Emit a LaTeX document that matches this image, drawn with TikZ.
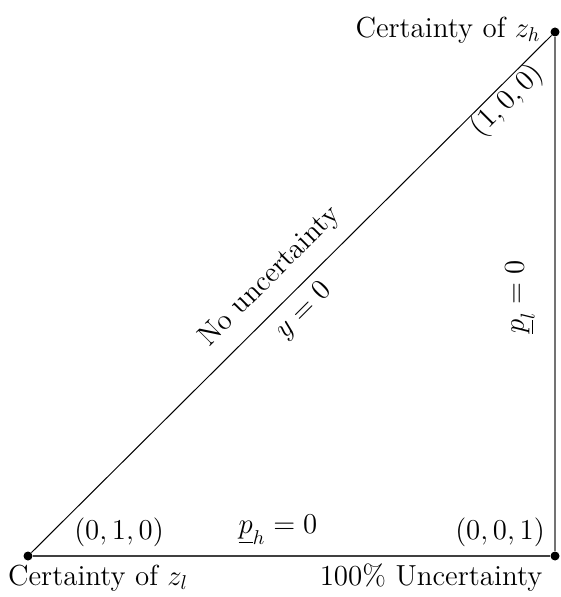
\documentclass[tikz,border=0pt]{standalone}
\begin{document}
\begin{tikzpicture}[x=0.5pt,y=-0.5pt,
  lbl/.style={font=\fontsize{14.5}{17}\selectfont, inner sep=0pt},
  dot/.style={circle, fill=black, inner sep=0pt, minimum size=4.5pt}]
\useasboundingbox (0,0) rectangle (560,597);
\node[dot] (A) at (28,556) {};
\node[dot] (B) at (555,556) {};
\node[dot] (C) at (555,32) {};
\draw[line width=0.5pt] (A) -- (C);
\draw[line width=0.7pt, black!75] (A) -- (B);
\draw[line width=0.8pt, black!55] (B) -- (C);
\node[lbl] (tC) at (448,30) {Certainty of $z_h$};
\node[lbl] (tA) at (98,578) {Certainty of $z_l$};
\node[lbl] (tB) at (431,578) {100\% Uncertainty};
\node[lbl] (v010) at (119,532) {$(0,1,0)$};
\node[lbl] (v001) at (500,532) {$(0,0,1)$};
\node[lbl] (ph) at (278,530) {$\underline{p}_h=0$};
\node[lbl, rotate=45] (v100) at (507,101) {$(1,0,0)$};
\node[lbl, rotate=45] (nu) at (270,277) {No uncertainty};
\node[lbl, rotate=45] (y0) at (304,311) {$y=0$};
\node[lbl, rotate=90] (pl) at (520,297) {$\underline{p}_l=0$};
\end{tikzpicture}
\end{document}
